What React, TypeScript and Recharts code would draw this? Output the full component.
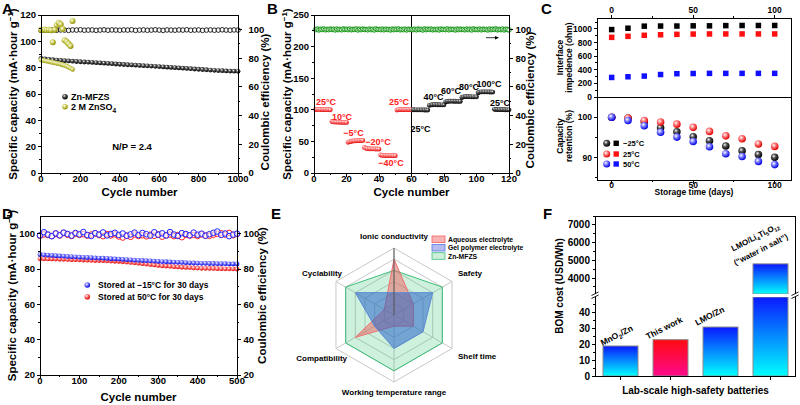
'use client'

import React from 'react'
import {
  Bar, BarChart, PolarAngleAxis, PolarGrid, PolarRadiusAxis, Radar, RadarChart,
  ReferenceLine, Scatter, ScatterChart, XAxis, YAxis,
} from 'recharts'

const FONT = '"Liberation Sans", Arial, Helvetica, sans-serif'
const W = 800
const H = 405

// ---------- A: long cycling ----------
const aCycles = [0, 20, 40, 60, 80, 100, 120, 140, 160, 180, 200, 220, 240, 260, 280, 300, 320, 340, 360, 380, 400, 420, 440, 460, 480, 500, 520, 540, 560, 580, 600, 620, 640, 660, 680, 700, 720, 740, 760, 780, 800, 820, 840, 860, 880, 900, 920, 940, 960, 980, 1000]
const aMfzsCap = [87.0, 86.6, 86.3, 86.0, 85.8, 85.5, 85.3, 85.1, 84.9, 84.7, 84.5, 84.3, 84.2, 84.0, 83.8, 83.6, 83.4, 83.2, 83.0, 82.8, 82.6, 82.4, 82.2, 82.1, 81.9, 81.7, 81.5, 81.4, 81.2, 81.0, 80.8, 80.6, 80.4, 80.2, 80.0, 79.8, 79.6, 79.4, 79.2, 79.0, 78.8, 78.6, 78.4, 78.2, 78.0, 77.8, 77.7, 77.5, 77.4, 77.3, 77.2]
const aMfzsCe = [99.3, 99.6, 99.5, 99.7, 99.4, 99.6, 99.5, 99.3, 99.6, 99.5, 99.7, 99.4, 99.5, 99.6, 99.3, 99.5, 99.7, 99.4, 99.6, 99.5, 99.4, 99.6, 99.5, 99.7, 99.3, 99.5, 99.6, 99.4, 99.5, 99.7, 99.5, 99.3, 99.6, 99.5, 99.4, 99.6, 99.5, 99.7, 99.4, 99.5, 99.6, 99.3, 99.5, 99.6, 99.4, 99.5, 99.7, 99.5, 99.4, 99.6, 99.5]
const aZnCycles = [0, 10, 20, 30, 40, 50, 60, 70, 80, 90, 100, 110, 120, 130, 140, 150, 160]
const aZnCap = [85.8, 85.5, 85.2, 84.9, 84.6, 84.3, 84.0, 83.7, 83.3, 83.0, 82.6, 82.2, 81.7, 81.1, 80.4, 79.6, 78.7]
const aZnCe = [99.8, 99.6, 99.9, 99.5, 99.7, 99.4, 91.0, 99.8, 102.8, 104.6, 103.5, 100.2, 92.4, 91.3, 89.9, 88.4, 105.8]
const aXMajor = [0, 200, 400, 600, 800, 1000]
const aXMinor = [100, 300, 500, 700, 900]
const aYMajor = [0, 20, 40, 60, 80, 100, 120]
const aYMinor = [10, 30, 50, 70, 90, 110]
const aRMajor = [0, 20, 40, 60, 80, 100]
const aRMinor = [10, 30, 50, 70, 90]

// ---------- B: temperature rate test (cycles 1..120) ----------
const bCapCold = [
  100.5, 100.8, 100.6, 100.4, 100.5, 100.3, 100.4, 100.2, 100.3, 100.1,
  81.5, 80.8, 80.6, 80.5, 80.4, 80.3, 80.3, 80.2, 80.2, 80.1,
  48.5, 49.5, 50.2, 50.6, 50.8, 51.0, 51.2, 51.3, 51.4, 51.5,
  40.5, 39.0, 38.6, 38.4, 38.3, 38.2, 38.1, 38.0, 38.0, 37.9,
  28.5, 28.0, 27.8, 27.7, 27.6, 27.6, 27.5, 27.5, 27.4, 27.4,
  99.5, 100.2, 100.4, 100.5, 100.5, 100.4, 100.4, 100.3, 100.3, 100.2,
]
const bCapHot = [
  100.1, 100.0, 100.0, 99.9, 99.9, 99.8, 99.8, 99.7, 99.7, 99.6,
  107.0, 107.8, 108.0, 108.1, 108.1, 108.0, 108.0, 107.9, 107.9, 107.8,
  112.5, 113.3, 113.5, 113.6, 113.6, 113.5, 113.5, 113.4, 113.4, 113.3,
  119.5, 120.5, 120.8, 120.8, 120.7, 120.7, 120.6, 120.6, 120.5, 120.5,
  127.0, 128.0, 128.3, 128.4, 128.4, 128.3, 128.3, 128.2, 128.2, 128.1,
  100.8, 100.5, 100.4, 100.3, 100.2, 100.2, 100.1, 100.1, 100.0, 100.0,
]
const bCe = [
  99.8, 100.2, 99.6, 100.1, 99.9, 100.3, 99.7, 100.0, 99.8, 100.2,
  99.9, 100.1, 99.6, 100.2, 99.8, 100.0, 99.7, 100.3, 99.9, 100.1,
  99.8, 100.2, 99.7, 100.0, 99.9, 100.3, 99.6, 100.1, 99.8, 100.2,
  99.9, 100.0, 99.7, 100.2, 99.8, 100.1, 99.6, 100.3, 99.9, 100.0,
  99.8, 100.2, 99.7, 100.1, 99.9, 100.0, 99.6, 100.2, 99.8, 100.1,
  99.9, 100.3, 99.7, 100.0, 99.8, 100.2, 99.6, 100.1, 99.9, 100.0,
  99.8, 100.1, 99.7, 100.2, 99.9, 100.0, 99.6, 100.3, 99.8, 100.1,
  99.9, 100.2, 99.7, 100.0, 99.8, 100.1, 99.6, 100.2, 99.9, 100.0,
  99.8, 100.3, 99.7, 100.1, 99.9, 100.0, 99.6, 100.2, 99.8, 100.1,
  99.9, 100.0, 99.7, 100.2, 99.8, 100.1, 99.6, 100.3, 99.9, 100.0,
  99.8, 100.2, 99.7, 100.1, 99.9, 100.0, 99.6, 100.2, 99.8, 100.1,
  99.9, 100.3, 99.7, 100.0, 99.8, 100.2, 99.6, 100.1, 99.9, 99.6,
]
const bXMajor = [0, 20, 40, 60, 80, 100, 120]
const bXMinor = [10, 30, 50, 70, 90, 110]
const bYMajor = [0, 50, 100, 150, 200, 250]
const bYMinor = [25, 75, 125, 175, 225]

// ---------- C: storage ----------
const cDays = [0, 10, 20, 30, 40, 50, 60, 70, 80, 90, 100]
const cImpM25 = [990, 1010, 1040, 1042, 1042, 1045, 1045, 1048, 1050, 1050, 1050]
const cImp25 = [876, 891, 906, 914, 920, 924, 926, 926, 926, 926, 926]
const cImp50 = [287, 297, 307, 330, 342, 345, 347, 347, 347, 347, 347]
const cRetM25 = [100, 99.8, 98.9, 97.4, 96.4, 95.2, 94.2, 92.9, 91.7, 90.8, 90.1]
const cRet25 = [100, 99.8, 99.2, 98.8, 98.3, 97.5, 96.5, 95.4, 94.7, 93.4, 92.8]
const cRet50 = [100, 99.2, 97.9, 96.3, 95.1, 94.0, 92.7, 91.0, 90.3, 89.1, 88.3]
const cXMajor = [0, 50, 100]
const cXMinor = [25, 75]
const cImpMajor = [0, 200, 400, 600, 800, 1000]
const cImpMinor = [100, 300, 500, 700, 900, 1100]
const cRetMajor = [90, 100]
const cRetMinor = [85, 95]

// ---------- D: after storage ----------
const dCycles = [0, 10, 20, 30, 40, 50, 60, 70, 80, 90, 100, 110, 120, 130, 140, 150, 160, 170, 180, 190, 200, 210, 220, 230, 240, 250, 260, 270, 280, 290, 300, 310, 320, 330, 340, 350, 360, 370, 380, 390, 400, 410, 420, 430, 440, 450, 460, 470, 480, 490, 500]
const dColdCap = [88.2, 88.0, 87.9, 87.7, 87.5, 87.4, 87.3, 87.1, 87.0, 86.9, 86.7, 86.6, 86.5, 86.4, 86.3, 86.2, 86.1, 86.0, 85.8, 85.7, 85.6, 85.4, 85.3, 85.2, 85.0, 84.9, 84.8, 84.7, 84.6, 84.5, 84.3, 84.2, 84.1, 84.0, 83.9, 83.8, 83.7, 83.6, 83.5, 83.4, 83.3, 83.2, 83.2, 83.1, 83.1, 83.0, 83.0, 83.0, 82.9, 82.9, 82.9]
const dHotCap = [85.8, 85.8, 85.7, 85.7, 85.6, 85.5, 85.5, 85.4, 85.3, 85.3, 85.2, 85.1, 85.0, 84.9, 84.8, 84.8, 84.7, 84.6, 84.5, 84.4, 84.3, 84.1, 83.9, 83.7, 83.5, 83.3, 83.0, 82.8, 82.5, 82.3, 82.0, 81.8, 81.7, 81.5, 81.3, 81.2, 81.0, 80.9, 80.8, 80.6, 80.5, 80.4, 80.4, 80.3, 80.3, 80.2, 80.2, 80.1, 80.1, 80.1, 80.0]
const dColdCe = [99.0, 100.8, 99.5, 98.6, 100.2, 99.1, 100.6, 99.8, 98.9, 100.4, 99.6, 100.9, 99.2, 98.7, 100.3, 99.5, 100.7, 99.0, 99.8, 100.5, 99.3, 100.1, 98.8, 99.6, 100.6, 99.2, 100.4, 99.7, 98.9, 100.8, 99.4, 100.2, 99.0, 100.9, 99.5, 98.7, 100.3, 99.8, 99.1, 100.6, 99.4, 100.0, 98.8, 99.7, 100.5, 101.2, 99.3, 100.1, 98.6, 99.5, 100.0]
const dHotCe = [98.8, 99.6, 99.2, 98.6, 99.8, 99.0, 100.4, 99.4, 98.7, 99.9, 99.3, 99.7, 98.9, 99.5, 100.1, 99.2, 98.6, 99.8, 99.0, 99.6, 98.4, 97.8, 98.9, 98.2, 99.5, 98.7, 99.1, 98.5, 99.4, 98.8, 99.6, 98.3, 99.0, 99.5, 98.6, 99.2, 98.0, 99.4, 98.9, 99.3, 98.7, 99.6, 99.0, 98.8, 99.4, 99.9, 100.2, 99.5, 100.4, 99.1, 99.8]
const dXMajor = [0, 100, 200, 300, 400, 500]
const dXMinor = [50, 150, 250, 350, 450]
const dYMajor = [20, 40, 60, 80, 100]
const dYMinor = [30, 50, 70, 90]

// ---------- E: radar ----------
const eAxes = ['Ionic conductivity', 'Safety', 'Shelf time', 'Working temperature range', 'Compatibility', 'Cyclability']
const eAqueous = [5, 2, 2, 1, 4, 1]
const eGel = [2, 4, 3, 3, 2, 4]
const eMfzs = [4, 5, 5, 5, 5, 5]

// ---------- F: BOM cost ----------
const fNames = ['MnO2/Zn', 'This work', 'LMO/Zn', 'LMO/Li4Ti5O12']
const fCosts = [19, 23, 31, 4800]
const fHighlight = 'This work'
const fLowMajor = [0, 10, 20, 30, 40]
const fLowMinor = [5, 15, 25, 35, 45]
const fUpMajor = [4000, 5000, 6000, 7000]
const fUpMinor = [3500, 4500, 5500, 6500, 7500]

// ---------- helpers ----------
const pts = (xs: number[], ys: number[]) => xs.map((x, i) => ({ x, y: ys[i] }))
const all = (a: number[], b: number[]) => [...a, ...b].sort((p, q) => p - q)

const mg = (L: number, T: number, R: number, B: number, o: { r?: number; t?: number; b?: number } = {}) => ({
  left: L - 1, top: T - (o.t ?? 0), right: W - R - (o.r ?? 0), bottom: H - B - (o.b ?? 1),
})

const ball = (id: string, r: number) => (p: any) => <circle cx={p.cx} cy={p.cy} r={r} fill={`url(#${id})`} />
const ring = (c: string, r: number, w = 1) => (p: any) => (
  <circle cx={p.cx} cy={p.cy} r={r} fill="#fff" fillOpacity={0.55} stroke={c} strokeWidth={w} />
)
const square = (c: string, s: number) => (p: any) => (
  <rect x={p.cx - s / 2} y={p.cy - s / 2} width={s} height={s} fill={c} />
)

function AxisTick(props: any) {
  const { x, y, payload, side, major, fs, bare, off = 5 } = props
  const v = payload?.value
  const big = major.includes(v)
  const len = big ? 3.5 : 2
  const lab = big && !bare
  const st = { fontSize: fs, fontWeight: 700, fontFamily: FONT, fill: '#000' }
  if (side === 'left')
    return (
      <g>
        <line x1={x - len} y1={y} x2={x} y2={y} stroke="#000" shapeRendering="crispEdges" />
        {lab && <text x={x - off} y={y + fs * 0.36} textAnchor="end" style={st}>{v}</text>}
      </g>
    )
  if (side === 'right')
    return (
      <g>
        <line x1={x} y1={y} x2={x + len} y2={y} stroke="#000" shapeRendering="crispEdges" />
        {lab && <text x={x + off} y={y + fs * 0.36} textAnchor="start" style={st}>{v}</text>}
      </g>
    )
  if (side === 'top')
    return (
      <g>
        <line x1={x} y1={y - len} x2={x} y2={y} stroke="#000" shapeRendering="crispEdges" />
        {lab && <text x={x} y={y - 5.5} textAnchor="middle" style={st}>{v}</text>}
      </g>
    )
  return (
    <g>
      <line x1={x} y1={y} x2={x} y2={y + len} stroke="#000" shapeRendering="crispEdges" />
      {lab && <text x={x} y={y + fs * 0.9} textAnchor="middle" style={st}>{v}</text>}
    </g>
  )
}

const tickOf = (side: string, major: any[], fs = 9.5, bare = false, off = 5) => (p: any) => (
  <AxisTick {...p} side={side} major={major} fs={fs} bare={bare} off={off} />
)

const ax = { tickLine: false, axisLine: false, tickSize: 0, tickMargin: 0, interval: 0 as const }

const barShape = (top: number) => (p: any) => {
  const y0 = Math.max(p.y, top)
  const h = p.y + p.height - y0
  if (!(h > 0) || p.payload?.v == null) return <g />
  const hi = p.payload.name === fHighlight
  return <rect x={p.x} y={y0} width={p.width} height={h} fill={hi ? 'url(#barRed)' : 'url(#barBlue)'} stroke="#8c8c8c" strokeWidth={1} />
}

function Txt({ x, y, s = 10, a = 'start', rot = 0, fill = '#000', children }: any) {
  return (
    <text transform={`translate(${x},${y}) rotate(${rot})`} fontSize={s} fontWeight={700} fontFamily={FONT} textAnchor={a} fill={fill}>
      {children}
    </text>
  )
}

const layer: React.CSSProperties = { position: 'absolute', left: 0, top: 0, width: W, height: H }

export default function App() {
  const eRows = eAxes.map((axis, i) => ({ axis, aqueous: eAqueous[i], gel: eGel[i], mfzs: eMfzs[i] }))
  const fUpper = fNames.map((name, i) => ({ name, v: fCosts[i] > 3100 ? fCosts[i] : null }))
  const fLower = fNames.map((name, i) => ({ name, v: fCosts[i] }))
  const bCold = bCapCold.map((y, i) => ({ x: i + 1, y }))
  const bHot = bCapHot.map((y, i) => ({ x: i + 61, y }))
  const bEff = bCe.map((y, i) => ({ x: i + 1, y }))

  return (
    <div style={{ ...layer, background: '#fff', overflow: 'hidden' }}>
      <svg width={0} height={0} style={{ position: 'absolute' }}>
        <defs>
          {[
            ['sphK', '#505050', '#000'],
            ['sphO', '#d6d670', '#8f8f00'],
            ['sphR', '#ff8080', '#e00000'],
            ['sphB', '#8080ff', '#0000e0'],
            ['sphG', '#80d080', '#119911'],
          ].map(([id, mid, dark]) => (
            <radialGradient key={id} id={id} cx="38%" cy="35%" r="65%">
              <stop offset="0%" stopColor="#fff" />
              <stop offset="40%" stopColor={mid} />
              <stop offset="100%" stopColor={dark} />
            </radialGradient>
          ))}
          <linearGradient id="barBlue" x1="0" y1="0" x2="0" y2="1">
            <stop offset="0%" stopColor="#0a18ff" />
            <stop offset="100%" stopColor="#00ffff" />
          </linearGradient>
          <linearGradient id="barRed" x1="0" y1="0" x2="0" y2="1">
            <stop offset="0%" stopColor="#ff0a10" />
            <stop offset="100%" stopColor="#ff0a8c" />
          </linearGradient>
        </defs>
      </svg>

      {/* A */}
      <div style={layer}>
        <ScatterChart width={W} height={H} margin={mg(41, 15, 238, 173, { r: 1 })}>
          <XAxis type="number" dataKey="x" domain={[0, 1000]} ticks={all(aXMajor, aXMinor)} height={1} {...ax} tick={tickOf('bottom', aXMajor)} />
          <YAxis yAxisId="cap" type="number" dataKey="y" domain={[0, 120]} ticks={all(aYMajor, aYMinor)} width={1} {...ax} tick={tickOf('left', aYMajor)} />
          <YAxis yAxisId="ce" orientation="right" type="number" dataKey="y" domain={[0, 110]} ticks={all(aRMajor, aRMinor)} width={1} {...ax} tick={tickOf('right', aRMajor, 9.5, false, 10.5)} />
          <Scatter yAxisId="cap" data={pts(aCycles, aMfzsCap)} shape={ball('sphK', 2.4)} isAnimationActive={false} />
          <Scatter yAxisId="ce" data={pts(aCycles, aMfzsCe)} shape={ring('#111', 2.3, 0.9)} isAnimationActive={false} />
          <Scatter yAxisId="cap" data={pts(aZnCycles, aZnCap)} shape={ball('sphO', 2.4)} isAnimationActive={false} />
          <Scatter yAxisId="ce" data={pts(aZnCycles, aZnCe)} shape={ball('sphO', 3)} isAnimationActive={false} />
        </ScatterChart>
      </div>

      {/* B */}
      <div style={layer}>
        <ScatterChart width={W} height={H} margin={mg(314, 15, 509, 173, { r: 1 })}>
          <XAxis type="number" dataKey="x" domain={[0, 120]} ticks={all(bXMajor, bXMinor)} height={1} {...ax} tick={tickOf('bottom', bXMajor)} />
          <YAxis yAxisId="cap" type="number" dataKey="y" domain={[0, 250]} ticks={all(bYMajor, bYMinor)} width={1} {...ax} tick={tickOf('left', bYMajor)} />
          <YAxis yAxisId="ce" orientation="right" type="number" dataKey="y" domain={[0, 110]} ticks={all(aRMajor, aRMinor)} width={1} {...ax} tick={tickOf('right', aRMajor, 9.5, false, 6.5)} />
          <ReferenceLine yAxisId="cap" x={60} stroke="#000" strokeWidth={1} />
          <Scatter yAxisId="ce" data={bEff} shape={ring('#1d9a1d', 2.3)} isAnimationActive={false} />
          <Scatter yAxisId="cap" data={bCold} shape={ball('sphR', 2.4)} isAnimationActive={false} />
          <Scatter yAxisId="cap" data={bHot} shape={ball('sphK', 2.4)} isAnimationActive={false} />
        </ScatterChart>
      </div>

      {/* C top */}
      <div style={layer}>
        <ScatterChart width={W} height={H} margin={mg(597, 18, 791, 97, { t: 1, b: 0 })}>
          <XAxis orientation="top" type="number" dataKey="x" domain={[-9, 110]} ticks={all(cXMajor, cXMinor)} height={1} {...ax} tick={tickOf('top', cXMajor, 8.5)} />
          <YAxis type="number" dataKey="y" domain={[0, 1160]} ticks={all(cImpMajor, cImpMinor)} width={1} {...ax} tick={tickOf('left', cImpMajor, 8.5)} />
          <Scatter data={pts(cDays, cImpM25)} shape={square('#000', 5.5)} isAnimationActive={false} />
          <Scatter data={pts(cDays, cImp25)} shape={square('#ff1010', 5.5)} isAnimationActive={false} />
          <Scatter data={pts(cDays, cImp50)} shape={square('#1010ff', 5.5)} isAnimationActive={false} />
        </ScatterChart>
      </div>

      {/* C bottom */}
      <div style={layer}>
        <ScatterChart width={W} height={H} margin={mg(597, 97, 791, 180)}>
          <XAxis type="number" dataKey="x" domain={[-9, 110]} ticks={all(cXMajor, cXMinor)} height={1} {...ax} tick={tickOf('bottom', cXMajor, 8.5)} />
          <YAxis type="number" dataKey="y" domain={[84.5, 105]} ticks={all(cRetMajor, cRetMinor)} width={1} {...ax} tick={tickOf('left', cRetMajor, 8.5)} />
          <Scatter data={pts(cDays, cRetM25)} shape={ball('sphK', 3.8)} isAnimationActive={false} />
          <Scatter data={pts(cDays, cRet25)} shape={ball('sphR', 3.8)} isAnimationActive={false} />
          <Scatter data={pts(cDays, cRet50)} shape={ball('sphB', 3.8)} isAnimationActive={false} />
        </ScatterChart>
      </div>

      {/* D */}
      <div style={layer}>
        <ScatterChart width={W} height={H} margin={mg(40, 216, 237, 375, { r: 1 })}>
          <XAxis type="number" dataKey="x" domain={[0, 500]} ticks={all(dXMajor, dXMinor)} height={1} {...ax} tick={tickOf('bottom', dXMajor)} />
          <YAxis yAxisId="cap" type="number" dataKey="y" domain={[20, 110]} ticks={all(dYMajor, dYMinor)} width={1} {...ax} tick={tickOf('left', dYMajor)} />
          <YAxis yAxisId="ce" orientation="right" type="number" dataKey="y" domain={[20, 110]} ticks={all(dYMajor, dYMinor)} width={1} {...ax} tick={tickOf('right', dYMajor, 9.5, false, 6.5)} />
          <Scatter yAxisId="cap" data={pts(dCycles, dHotCap)} shape={ball('sphR', 2.4)} isAnimationActive={false} />
          <Scatter yAxisId="cap" data={pts(dCycles, dColdCap)} shape={ball('sphB', 2.4)} isAnimationActive={false} />
          <Scatter yAxisId="ce" data={pts(dCycles, dHotCe)} shape={ring('#ff2020', 2.8)} isAnimationActive={false} />
          <Scatter yAxisId="ce" data={pts(dCycles, dColdCe)} shape={ring('#2020ff', 2.8)} isAnimationActive={false} />
        </ScatterChart>
      </div>

      {/* E */}
      <div style={layer}>
        <RadarChart width={W} height={H} cx={394} cy={315} outerRadius={67} data={eRows} startAngle={90} endAngle={-270} margin={{ top: 0, left: 0, right: 0, bottom: 0 }}>
          <PolarGrid gridType="polygon" stroke="#c8c8c8" />
          <PolarAngleAxis dataKey="axis" tick={false} axisLine={false} />
          <PolarRadiusAxis angle={90} domain={[0, 6]} tickCount={7} tick={false} axisLine={{ stroke: '#555' }} />
          <Radar dataKey="mfzs" stroke="#3cbf78" strokeWidth={1} fill="#3cc878" fillOpacity={0.25} isAnimationActive={false} />
          <Radar dataKey="aqueous" stroke="#f07070" strokeWidth={1} fill="#f06060" fillOpacity={0.5} isAnimationActive={false} />
          <Radar dataKey="gel" stroke="#5a8ad8" strokeWidth={1} fill="#2864c8" fillOpacity={0.55} isAnimationActive={false} />
        </RadarChart>
      </div>

      {/* E: lower half of the vertical axis */}
      <div style={layer}>
        <RadarChart width={W} height={H} cx={394} cy={315} outerRadius={67} data={eRows} startAngle={90} endAngle={-270} margin={{ top: 0, left: 0, right: 0, bottom: 0 }}>
          <PolarRadiusAxis angle={270} domain={[0, 6]} tickCount={7} tick={false} axisLine={{ stroke: '#555' }} />
        </RadarChart>
      </div>

      {/* F upper */}
      <div style={layer}>
        <BarChart width={W} height={H} data={fUpper} margin={mg(595, 216, 795, 294, { b: 0 })}>
          <XAxis dataKey="name" hide />
          <YAxis type="number" domain={[3100, 7500]} allowDataOverflow ticks={all(fUpMajor, fUpMinor)} width={1} {...ax} tick={tickOf('left', fUpMajor, 10)} />
          <Bar dataKey="v" barSize={35} shape={barShape(216)} isAnimationActive={false} />
        </BarChart>
      </div>

      {/* F lower */}
      <div style={layer}>
        <BarChart width={W} height={H} data={fLower} margin={mg(595, 297, 795, 376)}>
          <XAxis dataKey="name" height={1} {...ax} tick={tickOf('bottom', fNames, 10, true)} />
          <YAxis type="number" domain={[0, 50]} allowDataOverflow ticks={all(fLowMajor, fLowMinor)} width={1} {...ax} tick={tickOf('left', fLowMajor, 10)} />
          <Bar dataKey="v" barSize={35} shape={barShape(297)} isAnimationActive={false} />
        </BarChart>
      </div>

      {/* annotations, frames */}
      <svg width={W} height={H} style={{ ...layer, pointerEvents: 'none' }}>
        <g fill="none" stroke="#000" strokeWidth={1} shapeRendering="crispEdges">
          <rect x={41} y={15} width={197} height={158} />
          <rect x={314} y={15} width={195} height={158} />
          <rect x={597} y={18} width={194} height={162} />
          <line x1={597} y1={97} x2={791} y2={97} />
          <rect x={40} y={216} width={197} height={159} />
          <rect x={595} y={216} width={200} height={160} />
        </g>

        {/* A */}
        <Txt x={2} y={14} s={15}>A</Txt>
        <Txt x={16.5} y={94} rot={-90} a="middle" s={11.5}>
          Specific capacity (mA·hour g<tspan dy={-4} fontSize={8}>−1</tspan><tspan dy={4}>)</tspan>
        </Txt>
        <Txt x={268.5} y={102} rot={-90} a="middle" s={11.5}>Coulombic efficiency (%)</Txt>
        <Txt x={139.5} y={196} a="middle" s={11.5}>Cycle number</Txt>
        <circle cx={65} cy={96.7} r={2.8} fill="url(#sphK)" />
        <circle cx={65} cy={106.7} r={2.8} fill="url(#sphO)" />
        <Txt x={71} y={100} s={9}>Zn-MFZS</Txt>
        <Txt x={71} y={110} s={9}>2 M ZnSO<tspan dy={2.5} fontSize={6.5}>4</tspan></Txt>
        <Txt x={132} y={149.5} a="middle" s={9.5}>N/P = 2.4</Txt>

        {/* B */}
        <Txt x={267} y={14} s={15}>B</Txt>
        <Txt x={290.5} y={94} rot={-90} a="middle" s={11.5}>
          Specific capacity (mA·hour g<tspan dy={-4} fontSize={8}>−1</tspan><tspan dy={4}>)</tspan>
        </Txt>
        <Txt x={534} y={100} rot={-90} a="middle" s={11.5}>Coulombic efficiency (%)</Txt>
        <Txt x={411.5} y={196} a="middle" s={11.5}>Cycle number</Txt>
        <g>
          <Txt x={326} y={104.5} a="middle" s={9} fill="#ff2020">25°C</Txt>
          <Txt x={342} y={119.5} a="middle" s={9} fill="#ff2020">10°C</Txt>
          <Txt x={353.5} y={136} a="middle" s={9} fill="#ff2020">−5°C</Txt>
          <Txt x={378} y={144.5} a="middle" s={9} fill="#ff2020">−20°C</Txt>
          <Txt x={391} y={166} a="middle" s={9} fill="#ff2020">−40°C</Txt>
          <Txt x={399} y={104.5} a="middle" s={9} fill="#ff2020">25°C</Txt>
          <Txt x={420.5} y={131.8} a="middle" s={9}>25°C</Txt>
          <Txt x={433.5} y={99.5} a="middle" s={9}>40°C</Txt>
          <Txt x={451} y={94} a="middle" s={9}>60°C</Txt>
          <Txt x={469} y={90} a="middle" s={9}>80°C</Txt>
          <Txt x={489} y={86.8} a="middle" s={9}>100°C</Txt>
          <Txt x={500} y={106} a="middle" s={9}>25°C</Txt>
        </g>
        <line x1={486} y1={37.7} x2={497} y2={37.7} stroke="#000" strokeWidth={0.8} />
        <path d="M499 37.7 L495 36 L495 39.4 Z" fill="#000" />

        {/* C */}
        <Txt x={541} y={14} s={15}>C</Txt>
        <Txt x={563} y={57.5} rot={-90} a="middle" s={8.5}>Interface</Txt>
        <Txt x={571.5} y={57.5} rot={-90} a="middle" s={8.5}>impedence (ohm)</Txt>
        <Txt x={563} y={136} rot={-90} a="middle" s={8.5}>Capacity</Txt>
        <Txt x={571.5} y={136} rot={-90} a="middle" s={8.5}>retention (%)</Txt>
        <Txt x={694} y={195} a="middle" s={8.5}>Storage time (days)</Txt>
        {[
          ['sphK', '#000', '−25°C', 143.3],
          ['sphR', '#ff1010', '25°C', 154],
          ['sphB', '#1010ff', '50°C', 164],
        ].map(([g, c, t, y]) => (
          <g key={t as string}>
            <circle cx={606.7} cy={y as number} r={3.5} fill={`url(#${g})`} />
            <rect x={613.5} y={(y as number) - 2.7} width={5.4} height={5.4} fill={c as string} />
            <Txt x={623} y={(y as number) + 3} s={7.5}>{t}</Txt>
          </g>
        ))}

        {/* D */}
        <Txt x={2} y={219} s={15}>D</Txt>
        <Txt x={16} y={295.5} rot={-90} a="middle" s={11.5}>
          Specific capacity (mA·hour g<tspan dy={-4} fontSize={8}>−1</tspan><tspan dy={4}>)</tspan>
        </Txt>
        <Txt x={265.5} y={295.5} rot={-90} a="middle" s={11.5}>Coulombic efficiency (%)</Txt>
        <Txt x={138.5} y={401} a="middle" s={11.5}>Cycle number</Txt>
        <circle cx={87.3} cy={285} r={2.8} fill="url(#sphB)" />
        <circle cx={87.3} cy={296.7} r={2.8} fill="url(#sphR)" />
        <Txt x={98} y={288.2} s={8.5}>Stored at −15°C for 30 days</Txt>
        <Txt x={98} y={299.9} s={8.5}>Stored at 50°C for 30 days</Txt>

        {/* E */}
        <Txt x={271} y={219} s={15}>E</Txt>
        <Txt x={394} y={239} a="middle" s={8}>{eAxes[0]}</Txt>
        <Txt x={458} y={276} s={8}>{eAxes[1]}</Txt>
        <Txt x={458} y={359} s={8}>{eAxes[2]}</Txt>
        <Txt x={394} y={394.5} a="middle" s={8}>{eAxes[3]}</Txt>
        <Txt x={347} y={361} a="end" s={8}>{eAxes[4]}</Txt>
        <Txt x={342} y={275.5} a="end" s={8}>{eAxes[5]}</Txt>
        {[
          ['#f8b4b4', '#f06060', 'Aqueous electrolyte', 239.3],
          ['#b4bcf0', '#5878e0', 'Gel polymer electrolyte', 247.7],
          ['#cdeed8', '#40c080', 'Zn-MFZS', 256],
        ].map(([f, s, t, y]) => (
          <g key={t as string}>
            <rect x={432} y={(y as number) - 3.3} width={13} height={6.6} fill={f as string} stroke={s as string} strokeWidth={0.8} />
            <Txt x={448} y={(y as number) + 2.5} s={6.8}>{t}</Txt>
          </g>
        ))}

        {/* F */}
        <Txt x={543} y={219} s={15}>F</Txt>
        <Txt x={563} y={286} rot={-90} a="middle" s={10}>BOM cost (USD/Wh)</Txt>
        <Txt x={695.5} y={394} a="middle" s={10}>Lab-scale high-safety batteries</Txt>
        <Txt x={618} y={338} rot={-27} a="middle" s={8.5}>
          MnO<tspan dy={2} fontSize={6}>2</tspan><tspan dy={-2}>/Zn</tspan>
        </Txt>
        <Txt x={665.5} y={330.5} rot={-27} a="middle" s={8.5}>This work</Txt>
        <Txt x={711} y={318.5} rot={-27} a="middle" s={8.5}>LMO/Zn</Txt>
        <Txt x={756.5} y={239.5} rot={-27} a="middle" s={8}>
          LMO/Li<tspan dy={2} fontSize={5.5}>4</tspan><tspan dy={-2}>Ti</tspan><tspan dy={2} fontSize={5.5}>5</tspan><tspan dy={-2}>O</tspan><tspan dy={2} fontSize={5.5}>12</tspan>
        </Txt>
        <Txt x={762} y={252} rot={-27} a="middle" s={8}>(“water in salt”)</Txt>
        <g stroke="#000" strokeWidth={0.9}>
          <rect x={592} y={294} width={6} height={3} fill="#fff" stroke="none" />
          <line x1={591.5} y1={295.5} x2={598.5} y2={292} />
          <line x1={591.5} y1={298.5} x2={598.5} y2={295} />
          <rect x={792} y={294} width={6} height={3} fill="#fff" stroke="none" />
          <line x1={791.5} y1={295.5} x2={798.5} y2={292} />
          <line x1={791.5} y1={298.5} x2={798.5} y2={295} />
        </g>
      </svg>
    </div>
  )
}
